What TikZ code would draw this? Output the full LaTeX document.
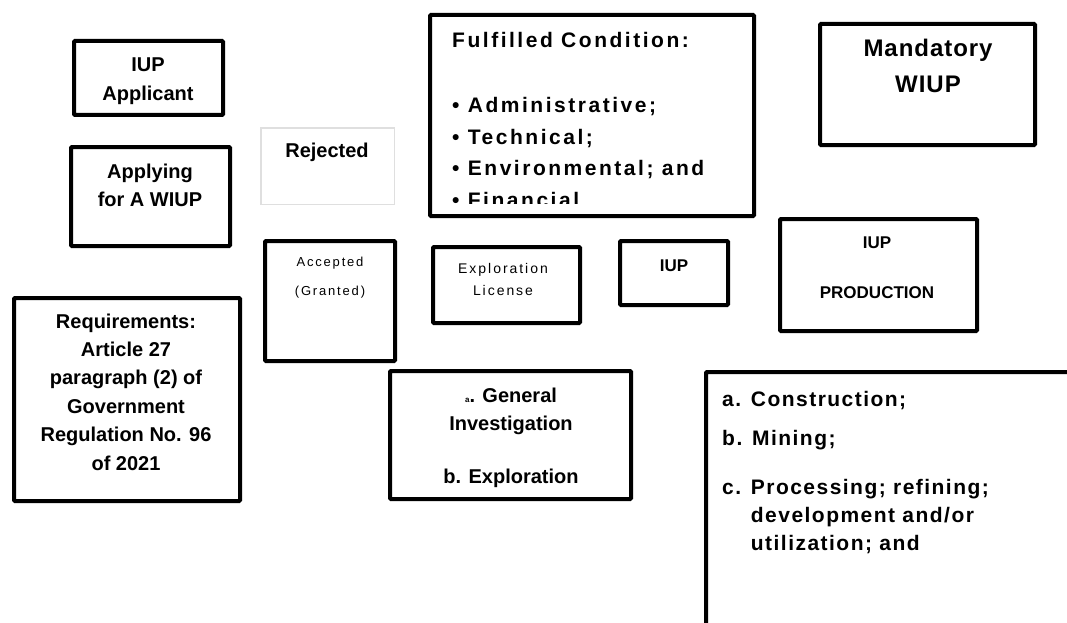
\documentclass[tikz,border=0pt]{standalone}
\usepackage{fontspec}
\setmainfont{Liberation Sans}
\newfontfamily\spfont[LetterSpace=14]{Liberation Sans}
\newfontfamily\condfont[LetterSpace=12]{Liberation Sans}
\newfontfamily\mandfont[LetterSpace=4]{Liberation Sans}
\newfontfamily\consfont[LetterSpace=7]{Liberation Sans}
\newcommand\rowsc[1]{\begin{tabular}[t]{@{}c@{}}#1\end{tabular}}
\newcommand\rowsl[1]{\begin{tabular}[t]{@{}l@{}}#1\end{tabular}}
\tikzset{
  box/.style={draw=black, line width=4pt, rounded corners=1pt, inner sep=0pt, fill=none},
  lightbox/.style={draw=gray!25, line width=1.5pt, inner sep=0pt},
  txt/.style={inner sep=0pt, anchor=base, text=black},
  txtl/.style={inner sep=0pt, anchor=base west, text=black},
  boldtxt/.style={txt, font=\fontsize{20}{28.4}\selectfont\bfseries},
}
\begin{document}
\begin{tikzpicture}[x=1pt,y=-1pt]
\useasboundingbox (0,0) rectangle (1067,623);
\clip (0,0) rectangle (1067,623);
\fill[white] (0,0) rectangle (1067,623);

% boxes
\node[box, minimum width=149pt, minimum height=74pt] (app) at (148.5,78) {};
\node[box, minimum width=159pt, minimum height=99pt] (apply) at (150.5,196.5) {};
\node[lightbox, minimum width=133.5pt, minimum height=76.5pt] (rej) at (327.5,166) {};
\node[box, minimum width=324pt, minimum height=201pt] (cond) at (592,115.5) {};
\node[box, minimum width=215pt, minimum height=121pt] (mand) at (927.5,84.5) {};
\node[box, minimum width=130pt, minimum height=120pt] (acc) at (330,301) {};
\node[box, minimum width=147pt, minimum height=76pt] (expl) at (506.5,285) {};
\node[box, minimum width=108pt, minimum height=64pt] (iup) at (674,273) {};
\node[box, minimum width=197pt, minimum height=112pt] (prod) at (878.5,275) {};
\node[box, minimum width=226pt, minimum height=203pt] (req) at (127,399.5) {};
\node[box, minimum width=241pt, minimum height=128pt] (gen) at (510.5,435) {};
\node[box, minimum width=392pt, minimum height=286pt] (cons) at (902,515) {};

% texts
\node[boldtxt] (app-t) at (148,72) {\rowsc{IUP\\ Applicant}};
\node[boldtxt] (apply-t) at (150,178) {\rowsc{Applying\\ for A WIUP}};
\node[boldtxt] (rej-t) at (327,157) {Rejected};
\node[boldtxt] (req-t) at (126,328) {\rowsc{Requirements:\\ Article 27\\ paragraph (2) of\\ Government\\ Regulation No. 96\\ of 2021}};
\node[boldtxt] (gen-t) at (511,402) {\rowsc{{\fontsize{8}{8}\selectfont a}. General\\ Investigation\\[25pt] b. Exploration}};
\node[txt, font=\spfont\fontsize{13}{14.5}\selectfont] (acc-t) at (330,266) {\rowsc{Accepted\\[14.5pt] (Granted)}};
\node[txt, font=\spfont\fontsize{14}{22}\selectfont] (expl-t) at (503,273) {\rowsc{Exploration\\ License}};
\node[txt, font=\fontsize{17}{25}\selectfont\bfseries] (iup-t) at (674,271) {IUP};
\node[txt, font=\fontsize{17}{25}\selectfont\bfseries] (prod-t) at (877,248) {\rowsc{IUP\\[25pt] PRODUCTION}};
\node[txt, font=\mandfont\fontsize{24}{36}\selectfont\bfseries] (mand-t) at (928,57) {\rowsc{Mandatory\\ WIUP}};
\begin{scope}
  \clip (430,15) rectangle (754,203);
  \node[txtl, font=\condfont\fontsize{21}{31.5}\selectfont\bfseries] (cond-t) at (452,48)
    {\rowsl{Fulfilled Condition:\\[33.5pt]
      \textbullet\ Administrative;\\
      \textbullet\ Technical;\\
      \textbullet\ Environmental; and\\
      \textbullet\ Financial}};
\end{scope}
\node[txtl, font=\consfont\fontsize{21}{28}\selectfont\bfseries] (cons-t) at (722,406)
  {\rowsl{a. Construction;\\[11pt]
    b. Mining;\\[21pt]
    c. Processing; refining;\\
    \phantom{c. }development and/or\\
    \phantom{c. }utilization; and}};
\end{tikzpicture}
\end{document}
